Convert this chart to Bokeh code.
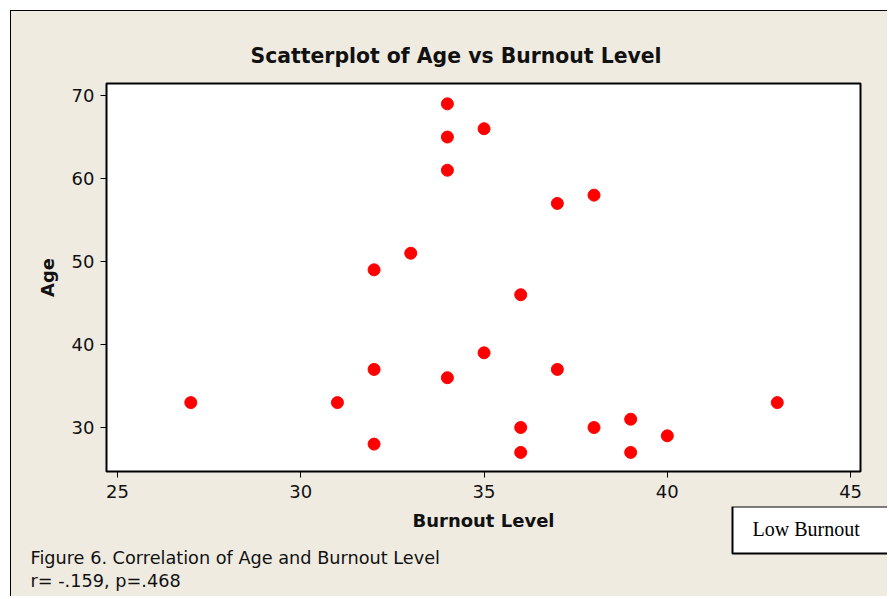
from bokeh.plotting import figure
from bokeh.models import Range1d, FixedTicker, Title
from bokeh.layouts import column
from bokeh.core.properties import value
from bokeh.embed import file_html
from bokeh.resources import INLINE

# Data
burnout = [27, 31, 32, 32, 32, 33, 34, 34, 34, 34, 35, 35, 36, 36, 36, 37, 37, 38, 38, 39, 39, 40, 43]
age     = [33, 33, 49, 37, 28, 51, 69, 65, 61, 36, 66, 39, 46, 30, 27, 57, 37, 58, 30, 31, 27, 29, 33]
x_ticks = [25, 30, 35, 40, 45]
y_ticks = [30, 40, 50, 60, 70]

title_text = "Scatterplot of Age vs Burnout Level"
x_label = "Burnout Level"
y_label = "Age"
caption1 = "Figure 6. Correlation of Age and Burnout Level"
caption2 = "r= -.159, p=.468"
box_text = "Low Burnout"

BG = "#EFEBE1"
FONT = "DejaVu Sans"
INK = "#111111"

W = 876
H_MAIN = 495
H_BOT = 90
TOP = 11                 # page offset of the canvases
BOT0 = TOP + H_MAIN      # page y where the bottom strip starts

# ---- main scatter figure ----
p = figure(width=W, height=H_MAIN,
           x_range=Range1d(24.70, 45.27), y_range=Range1d(24.70, 71.45),
           output_backend="svg", toolbar_location=None,
           min_border_left=95, min_border_top=72, min_border_right=27, min_border_bottom=35)
p.frame_align = False
p.background_fill_color = "white"
p.border_fill_color = BG
p.outline_line_color = "black"
p.outline_line_width = 2
p.xgrid.visible = False
p.ygrid.visible = False

for ax, ticks in ((p.xaxis, x_ticks), (p.yaxis, y_ticks)):
    ax.ticker = FixedTicker(ticks=ticks)
    ax.axis_line_color = None
    ax.major_tick_in = 0
    ax.major_tick_out = 6
    ax.major_tick_line_color = "black"
    ax.major_tick_line_width = 1
    ax.minor_tick_line_color = None
    ax.major_label_text_font = FONT
    ax.major_label_text_font_size = "18px"
    ax.major_label_text_color = INK

p.xaxis.major_label_standoff = 7
p.yaxis.major_label_standoff = 6
p.yaxis.axis_label = y_label
p.yaxis.axis_label_text_font = FONT
p.yaxis.axis_label_text_font_size = "18px"
p.yaxis.axis_label_text_font_style = "bold"
p.yaxis.axis_label_text_color = INK
p.yaxis.axis_label_standoff = 11

p.scatter(burnout, age, size=12, color="#FF0000")

p.add_layout(Title(text=title_text, align="left", offset=144, standoff=32,
                   text_font=FONT, text_font_size="20.4px", text_font_style="bold",
                   text_color=INK), "above")

# ---- bottom strip: x-axis title, caption and the "Low Burnout" box ----
# ranges are in page pixels so that the texts line up with the figure above
q = figure(width=W, height=H_BOT, x_range=Range1d(TOP, TOP + W),
           y_range=Range1d(BOT0 + H_BOT, BOT0),
           output_backend="svg", toolbar_location=None,
           x_axis_type=None, y_axis_type=None, min_border=0)
q.frame_align = False
q.background_fill_color = BG
q.border_fill_color = BG
q.outline_line_color = None
q.xgrid.visible = False
q.ygrid.visible = False

q.text(x=[483], y=[520], text=[x_label], text_align="center", text_baseline="middle",
       text_font=value(FONT), text_font_size="18px", text_font_style="bold", text_color=INK)
q.text(x=[30, 30], y=[557, 580.5], text=[caption1, caption2], text_align="left",
       text_baseline="middle", text_font=value(FONT), text_font_size="17.7px",
       text_color=INK)
q.quad(left=[732], right=[W + 40], top=[506], bottom=[553],
       fill_color="white", line_color="black", line_width=2)
q.text(x=[752], y=[528], text=[box_text], text_align="left", text_baseline="middle",
       text_font=value("Liberation Serif"), text_font_size="20px", text_color="black")

layout = column(p, q, spacing=0,
                styles={"border-top": "1px solid black", "border-left": "1px solid black",
                        "margin-top": "10px", "margin-left": "10px",
                        "background-color": BG})

open("out.html", "w").write(file_html(layout, INLINE))
